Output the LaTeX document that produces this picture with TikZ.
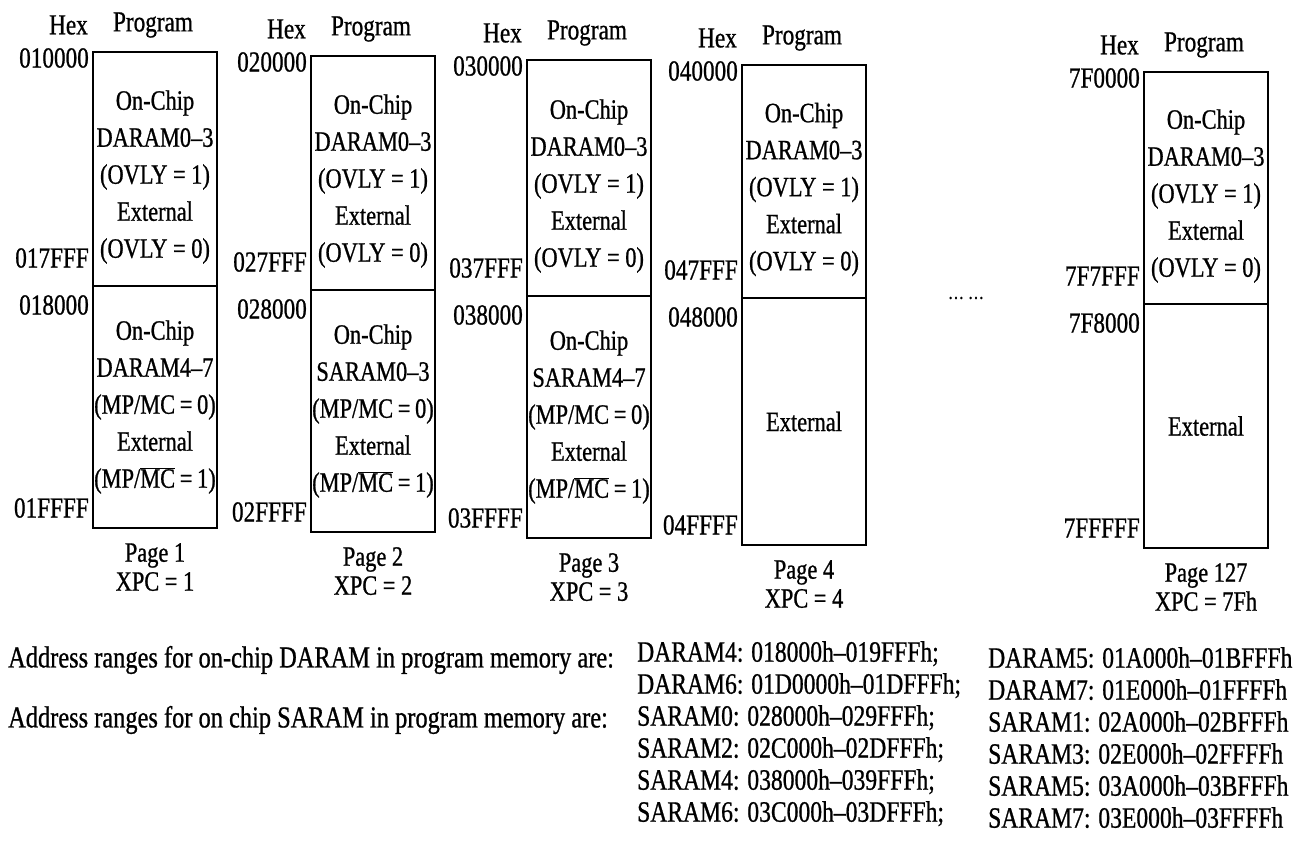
\documentclass[tikz,border=0pt]{standalone}
\usepackage{fontspec}
\setmainfont[FakeStretch=0.8, FakeBold=0.8]{Liberation Serif}
\usepackage{tikz}
\usetikzlibrary{positioning}
\tikzset{
  mmbox/.style={
    rectangle, draw=black, line width=2.6pt,
    minimum width=124pt, inner sep=0pt, outer sep=0pt
  },
  mmtext/.style={align=center, font=\fontsize{28}{37}\selectfont, inner sep=0pt},
  mmaddr/.style={anchor=east, font=\fontsize{29}{30}\selectfont, inner sep=0pt},
  mmhead/.style={font=\fontsize{29}{30}\selectfont, inner sep=0pt},
  mmpage/.style={align=center, anchor=north, font=\fontsize{28}{29}\selectfont, inner sep=0pt},
  mmnote/.style={align=left, anchor=west, font=\fontsize{29.5}{32}\selectfont, inner sep=0pt},
}

\begin{document}
\begin{tikzpicture}[x=1pt, y=-1pt]
  \useasboundingbox (0,0) rectangle (1296,860);
  % one page: upper half, lower half, addresses, headings
  \foreach \n/\x/\yt/\yd/\yb/\hx/\xpc in {1/93/52/286/528/01/1, 2/311/56/290/532/02/2,
      3/527/60/296/538/03/3, 4/742/65/298/545/04/4, 127/1144/72/304/548/7F/7Fh} {
    \node (b\n-up) [mmbox, anchor=north west, minimum height={(\yd-\yt)*1pt}] at (\x,\yt) {};
    \node (b\n-lo) [mmbox, anchor=north, minimum height={(\yb-\yd)*1pt}] at (b\n-up.south) {};
    \node (t\n-up) [mmtext] at ([yshift=-8pt]b\n-up.center)
      {On-Chip\\DARAM0--3\\(OVLY = 1)\\External\\(OVLY = 0)};
    \node (h\n-hex) [mmhead, anchor=east] at ([xshift=-5pt,yshift=27pt]b\n-up.north west) {Hex};
    \node (h\n-prg) [mmhead] at ([xshift=-2pt,yshift=27pt]b\n-up.north) {Program};
    \node (a\n-1) [mmaddr] at ([xshift=-4pt,yshift=-6pt]b\n-up.north west) {\hx0000};
    \node (a\n-2) [mmaddr] at ([xshift=-4pt,yshift=28pt]b\n-up.south west) {\hx7FFF};
    \node (a\n-3) [mmaddr] at ([xshift=-4pt,yshift=-19pt]b\n-lo.north west) {\hx8000};
    \node (a\n-4) [mmaddr] at ([xshift=-4pt,yshift=20pt]b\n-lo.south west) {\hx{}FFFF};
    \node (p\n) [mmpage] at ([yshift=-15pt]b\n-lo.south) {Page \n\\XPC = \xpc};
  }
  \node (t1-lo) [mmtext] at (b1-lo) {On-Chip\\DARAM4--7\\(MP/MC\,=\,0)\\External\\(MP/$\overline{\hbox{MC}}$\,=\,1)};
  \node (t2-lo) [mmtext] at (b2-lo) {On-Chip\\SARAM0--3\\(MP/MC\,=\,0)\\External\\(MP/$\overline{\hbox{MC}}$\,=\,1)};
  \node (t3-lo) [mmtext] at (b3-lo) {On-Chip\\SARAM4--7\\(MP/MC\,=\,0)\\External\\(MP/$\overline{\hbox{MC}}$\,=\,1)};
  \node (t4-lo) [mmtext] at (b4-lo) {External};
  \node (t127-lo) [mmtext] at (b127-lo) {External};
  \node (dots) [font=\fontsize{20}{20}\selectfont] at (966,298) {\dots\ \dots};

  % address ranges
  \node (n-daram) [mmnote, font=\fontsize{30.5}{32}\selectfont] at (8,660) {Address ranges for on-chip DARAM in program memory are:};
  \node (n-saram) [mmnote, font=\fontsize{30.5}{32}\selectfont] at (8,720) {Address ranges for on chip SARAM in program memory are:};
  \node (c1) [mmnote, anchor=north west] at (637,641) {DARAM4: 018000h--019FFFh;\\DARAM6: 01D0000h--01DFFFh;\\
    SARAM0: 028000h--029FFFh;\\SARAM2: 02C000h--02DFFFh;\\SARAM4: 038000h--039FFFh;\\SARAM6: 03C000h--03DFFFh;};
  \node (c2) [mmnote, anchor=north west] at (988,647) {DARAM5: 01A000h--01BFFFh\\DARAM7: 01E000h--01FFFFh\\
    SARAM1: 02A000h--02BFFFh\\SARAM3: 02E000h--02FFFFh\\SARAM5: 03A000h--03BFFFh\\SARAM7: 03E000h--03FFFFh};
\end{tikzpicture}
\end{document}
